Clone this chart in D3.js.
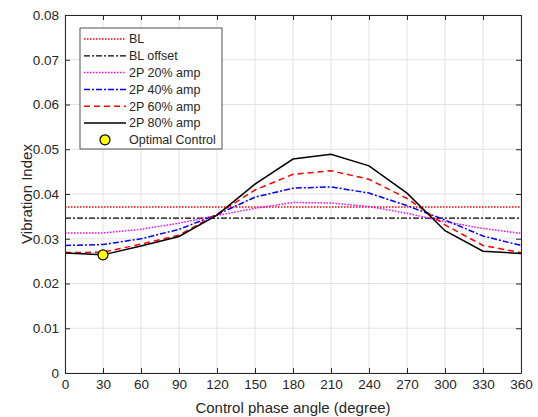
<!DOCTYPE html>
<html>
<head>
<meta charset="utf-8">
<script src="https://cdn.jsdelivr.net/npm/d3@7"></script>
<style>
body{margin:0;background:#fff;}
text{font-family:"Liberation Sans",Arial,sans-serif;fill:#262626;}
</style>
</head>
<body>
<div id="chart"></div>
<script>
// phase angles (degree)
var angles = [0,30,60,90,120,150,180,210,240,270,300,330,360];
var blValue = 0.0371;
var blOffsetValue = 0.0346;
var amp20 = [0.0313,0.0313,0.0321,0.0335,0.0352,0.0368,0.0381,0.0380,0.0372,0.0357,0.0338,0.0323,0.0312];
var amp40 = [0.0285,0.0287,0.0300,0.0321,0.0354,0.0393,0.0413,0.0416,0.0402,0.0374,0.0342,0.0306,0.0285];
var amp60 = [0.0269,0.0270,0.0288,0.0308,0.0355,0.0409,0.0444,0.0452,0.0433,0.0390,0.0331,0.0285,0.0269];
var amp80 = [0.0268,0.0264,0.0284,0.0305,0.0353,0.0422,0.0478,0.0489,0.0463,0.0402,0.0318,0.0272,0.0267];
var optimal = {angle:30, value:0.0264};
var xTicks = [0,30,60,90,120,150,180,210,240,270,300,330,360];
var yTicks = [0,0.01,0.02,0.03,0.04,0.05,0.06,0.07,0.08];

var w = 538, h = 417;
var margin = {left:65, right:17, top:15, bottom:44};
var pw = w-margin.left-margin.right, ph = h-margin.top-margin.bottom;

var svg = d3.select("#chart").append("svg")
  .attr("width", w).attr("height", h);
var g = svg.append("g").attr("transform","translate("+margin.left+","+margin.top+")");

var x = d3.scaleLinear().domain([0,360]).range([0,pw]);
var y = d3.scaleLinear().domain([0,0.08]).range([ph,0]);

// grid
g.selectAll(".gx").data(xTicks).enter().append("line")
  .attr("x1",function(d){return x(d);}).attr("x2",function(d){return x(d);})
  .attr("y1",0).attr("y2",ph)
  .style("stroke","#e3e3e3").style("stroke-width",1);
g.selectAll(".gy").data(yTicks).enter().append("line")
  .attr("y1",function(d){return y(d);}).attr("y2",function(d){return y(d);})
  .attr("x1",0).attr("x2",pw)
  .style("stroke","#e3e3e3").style("stroke-width",1);

var series = [
  {name:"BL", values:angles.map(function(){return blValue;}), color:"#ff0000", dash:"1.5,1.5", width:1.3},
  {name:"BL offset", values:angles.map(function(){return blOffsetValue;}), color:"#000000", dash:"6,2,2,2", width:1.3},
  {name:"2P 20% amp", values:amp20, color:"#ff00ff", dash:"1.5,1.5", width:1.5},
  {name:"2P 40% amp", values:amp40, color:"#0000ff", dash:"6,2,2,2", width:1.5},
  {name:"2P 60% amp", values:amp60, color:"#ff0000", dash:"6,4", width:1.5},
  {name:"2P 80% amp", values:amp80, color:"#000000", dash:null, width:1.5}
];

var line = d3.line()
  .x(function(d,i){return x(angles[i]);})
  .y(function(d){return y(d);});

series.forEach(function(s){
  g.append("path")
    .datum(s.values)
    .attr("d", line)
    .style("fill","none")
    .style("stroke",s.color)
    .style("stroke-width",s.width)
    .style("stroke-dasharray",s.dash);
});

g.append("circle")
  .attr("cx",x(optimal.angle)).attr("cy",y(optimal.value)).attr("r",5)
  .style("fill","#ffff00").style("stroke","#000").style("stroke-width",1.2);

// axes
var axisColor = "#262626";
g.append("g").attr("transform","translate(0,"+ph+")")
  .call(d3.axisBottom(x).tickValues(xTicks).tickSizeInner(-5).tickSizeOuter(0).tickPadding(6));
g.append("g")
  .call(d3.axisLeft(y).tickValues(yTicks).tickSizeInner(-5).tickSizeOuter(0).tickPadding(6)
    .tickFormat(function(d){return d===0?"0":d3.format(".2f")(d);}));
g.append("g")
  .call(d3.axisTop(x).tickValues(xTicks).tickSizeInner(-5).tickSizeOuter(0).tickFormat(""));
g.append("g").attr("transform","translate("+pw+",0)")
  .call(d3.axisRight(y).tickValues(yTicks).tickSizeInner(-5).tickSizeOuter(0).tickFormat(""));
g.selectAll(".domain").style("stroke",axisColor);
g.selectAll(".tick line").style("stroke",axisColor);
g.selectAll(".tick text").style("font-size","13.5px").style("fill",axisColor)
  .style("font-family","'Liberation Sans',Arial,sans-serif");

svg.append("text")
  .attr("x", margin.left+pw/2).attr("y", 413)
  .attr("text-anchor","middle").style("font-size","15px")
  .text("Control phase angle (degree)");
svg.append("text")
  .attr("transform","translate(32,"+(margin.top+ph/2)+") rotate(-90)")
  .attr("text-anchor","middle").style("font-size","15px")
  .text("Vibration Index");

// legend
var lg = svg.append("g").attr("transform","translate(80,28)");
lg.append("rect").attr("width",142).attr("height",121)
  .style("fill","#fff").style("stroke","#262626").style("stroke-width",0.8);
var rowH = 16.8;
series.forEach(function(s,i){
  var yy = 11+i*rowH;
  lg.append("line").attr("x1",4).attr("x2",46).attr("y1",yy).attr("y2",yy)
    .style("stroke",s.color).style("stroke-width",s.width).style("stroke-dasharray",s.dash);
  lg.append("text").attr("x",49).attr("y",yy).attr("dy","0.35em")
    .style("font-size","12.5px").text(s.name);
});
var yo = 11+6*rowH;
lg.append("circle").attr("cx",25).attr("cy",yo).attr("r",5)
  .style("fill","#ffff00").style("stroke","#000").style("stroke-width",1.2);
lg.append("text").attr("x",49).attr("y",yo).attr("dy","0.35em")
  .style("font-size","12.5px").text("Optimal Control");
</script>
</body>
</html>
